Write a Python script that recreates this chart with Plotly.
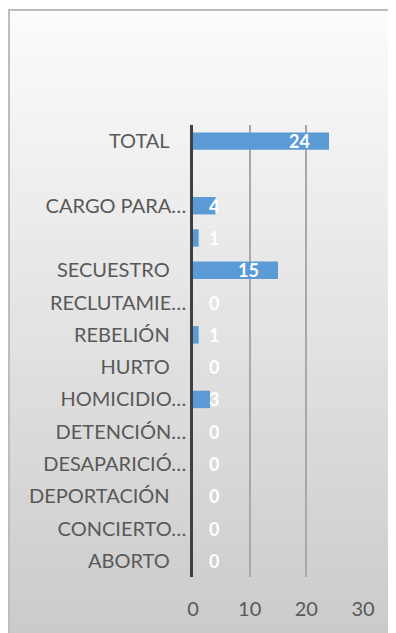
import plotly.graph_objects as go

# Data (bottom to top)
categories = ["ABORTO", "CONCIERTO…", "DEPORTACIÓN", "DESAPARICIÓ…", "DETENCIÓN…",
              "HOMICIDIO…", "HURTO", "REBELIÓN", "RECLUTAMIE…", "SECUESTRO",
              "", "CARGO PARA…", "", "TOTAL"]
values = [0, 0, 0, 0, 0, 3, 0, 1, 0, 15, 1, 4, None, 24]
x_ticks = [0, 10, 20, 30]

positions = list(range(len(categories)))
tick_text = [c if c.endswith("…") or c == "" else c + "\u2007\u2009\u2009" for c in categories]

W, H = 396, 633
L, R, T, B = 185, 41, 117, 64
pw, ph = W - L - R, H - T - B

def xp(px):
    return (px - L) / pw

def yp(py):
    return (H - B - py) / ph

fig = go.Figure()
fig.add_trace(go.Bar(
    x=values, y=positions, orientation="h",
    marker=dict(color="#5B9BD5", line=dict(width=0)),
    hoverinfo="skip", width=0.54,
))

label_font = dict(family="Lato", size=18, color="white", weight="bold")
annotations = []
for pos, v in zip(positions, values):
    if v is None:
        continue
    if v >= 10:
        annotations.append(dict(x=v, y=pos, xref="x", yref="y", text=str(v),
                                showarrow=False, xanchor="right", xshift=-17,
                                font=label_font))
    else:
        annotations.append(dict(x=0, y=pos, xref="x", yref="y", text=str(v),
                                showarrow=False, xanchor="left", xshift=14,
                                font=label_font))

# gradient background (chart area)
shapes = []
n = 60
top_c, bot_c = 252, 202
y_top, y_bot = 0, H
for i in range(n):
    a = y_top + (y_bot - y_top) * i / n
    b = y_top + (y_bot - y_top) * (i + 1) / n
    c = round(top_c + (bot_c - top_c) * (i + 0.5) / n)
    shapes.append(dict(type="rect", xref="paper", yref="paper", layer="below",
                       x0=xp(0), x1=xp(W), y0=yp(b + 0.5), y1=yp(a),
                       fillcolor=f"rgb({c},{c},{c})", line=dict(width=0)))
shapes.append(dict(type="rect", xref="paper", yref="paper", layer="below",
                   x0=xp(1), x1=xp(W + 10), y0=yp(H + 10), y1=yp(2),
                   fillcolor="rgba(0,0,0,0)", line=dict(color="#bdbdbd", width=2)))

fig.update_layout(
    width=W, height=H,
    margin=dict(l=L, r=R, t=T, b=B, pad=0),
    paper_bgcolor="white", plot_bgcolor="rgba(0,0,0,0)",
    showlegend=False, shapes=shapes, annotations=annotations,
    font=dict(family="Lato", color="#595959"),
    xaxis=dict(range=[0, 30], tickvals=x_ticks, ticktext=[str(t) for t in x_ticks],
               showgrid=True, gridcolor="#a8a8a8", gridwidth=1.5,
               zeroline=False, showline=False, ticks="",
               ticklabelstandoff=18,
               tickfont=dict(family="Lato", size=20, color="#595959")),
    yaxis=dict(range=[-0.5, len(categories) - 0.5], tickvals=positions, ticktext=tick_text,
               showgrid=False, zeroline=False, showline=True, linecolor="#404040",
               linewidth=2.5, ticks="", ticklabelstandoff=0,
               tickfont=dict(family="Lato", size=20, color="#595959")),
)

fig.write_html("out.html")
